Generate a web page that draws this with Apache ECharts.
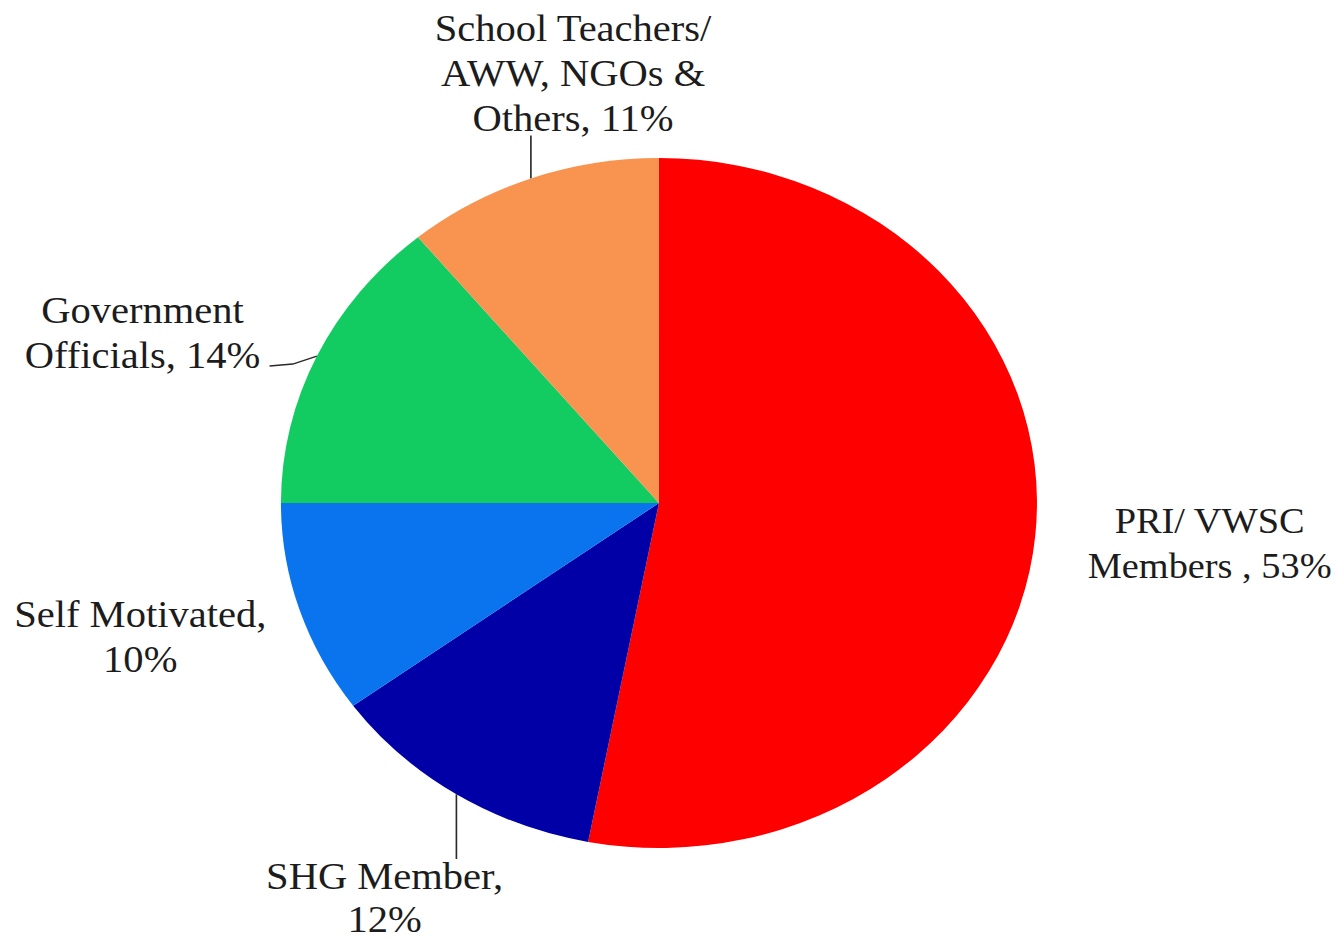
<!DOCTYPE html>
<html>
<head>
<meta charset="utf-8">
<title>Sources of motivation</title>
<script src="https://cdn.jsdelivr.net/npm/echarts@6/dist/echarts.min.js"></script>
<style>
  html, body { margin: 0; padding: 0; background: #ffffff; overflow: hidden; }
  #wrap { width: 1339px; height: 941px; overflow: hidden; }
  /* the chart is drawn on a narrower stage and widened horizontally */
  #chart { width: 1222px; height: 941px; transform: scaleX(1.0957); transform-origin: 0 0; }
</style>
</head>
<body>
<div id="wrap"><div id="chart"></div></div>
<script>
// Share of respondents by source of motivation (%)
const categories = [
  'PRI/ VWSC Members',
  'SHG Member',
  'Self Motivated',
  'Government Officials',
  'School Teachers/ AWW, NGOs & Others'
];
const shares = [53, 12, 10, 14, 11];
// label text shown before each percentage
const labelHeads = [
  'PRI/ VWSC\nMembers , ',
  'SHG Member,\n',
  'Self Motivated,\n',
  'Government\nOfficials, ',
  'School Teachers/\nAWW, NGOs &\nOthers, '
];

const sliceColors = ['#ff0000', '#0000a6', '#0a74ee', '#12cc61', '#f8944f'];

// label anchors (stage pixels), font size, line height and leader-line style per slice
const labelSpots = [
  { x: 1104, y: 544, size: 35, lh: 45, lead: 'none' },
  { x: 351, y: 898, size: 37, lh: 43, lead: 'down' },
  { x: 128, y: 637, size: 37, lh: 45, lead: 'none' },
  { x: 130, y: 333, size: 37, lh: 45, lead: 'left' },
  { x: 523, y: 73, size: 37, lh: 45, lead: 'up' }
];

const chart = echarts.init(document.getElementById('chart'), null, { renderer: 'svg' });

chart.setOption({
  animation: false,
  backgroundColor: '#ffffff',
  series: [{
    type: 'pie',
    center: [601.4, 503],
    radius: 345,
    startAngle: 90,
    clockwise: true,
    avoidLabelOverlap: false,
    itemStyle: { borderWidth: 0 },
    emphasis: { disabled: true },
    label: {
      show: true,
      position: 'outside',
      fontFamily: '"Liberation Serif", "Times New Roman", serif',
      fontSize: 37,
      lineHeight: 45,
      color: '#1c1c1c',
      align: 'center',
      formatter: p => labelHeads[p.dataIndex] + p.value + '%'
    },
    labelLine: {
      show: true,
      smooth: false,
      lineStyle: { color: '#2a2a2a', width: 1.5 }
    },
    labelLayout: params => {
      const spot = labelSpots[params.dataIndex];
      const lines = labelHeads[params.dataIndex].split('\n').length;
      const half = lines * spot.lh / 2;
      const out = { x: spot.x, y: spot.y, align: 'center', verticalAlign: 'middle' };
      const pts = params.labelLinePoints;
      if (pts && pts.length) {
        const p0 = pts[0];
        if (spot.lead === 'up') {
          const end = spot.y + half - 5;
          out.labelLinePoints = [p0, [p0[0], (p0[1] + end) / 2], [p0[0], end]];
        } else if (spot.lead === 'down') {
          const end = spot.y - half + 4;
          out.labelLinePoints = [p0, [p0[0], (p0[1] + end) / 2], [p0[0], end]];
        } else if (spot.lead === 'left') {
          out.labelLinePoints = [p0, [p0[0] - 22, p0[1] + 8], [spot.x + 116, spot.y + 33]];
        }
      }
      return out;
    },
    data: categories.map((name, i) => ({
      name: name,
      value: shares[i],
      itemStyle: { color: sliceColors[i] },
      label: { fontSize: labelSpots[i].size, lineHeight: labelSpots[i].lh },
      labelLine: { show: labelSpots[i].lead !== 'none' }
    }))
  }]
});
</script>
</body>
</html>
